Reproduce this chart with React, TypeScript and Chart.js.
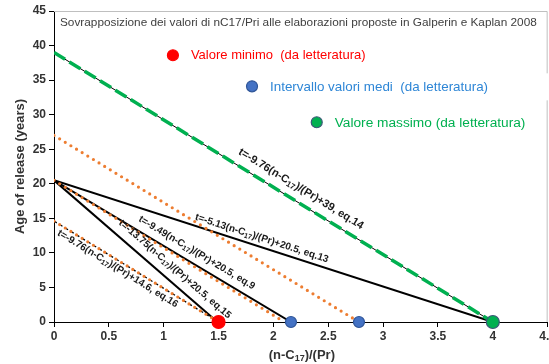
import React, { useEffect, useRef } from 'react';
import { Chart, registerables } from 'chart.js';

Chart.register(...registerables);

const FONT = "'Liberation Sans', Arial, Helvetica, sans-serif";
const TEXT_DARK = '#333333';

// Axis ranges and tick spacing
const X_MIN = 0;
const X_MAX = 4.5;
const X_STEP = 0.5;
const Y_MIN = 0;
const Y_MAX = 45;
const Y_STEP = 5;

// Age-of-release regressions, end points as ((n-C17)/(Pr), t)
const eq14Points = [{ x: 0, y: 39 }, { x: 4, y: 0 }];
const eq13Points = [{ x: 0, y: 20.5 }, { x: 4, y: 0 }];
const eq9Points = [{ x: 0, y: 20.5 }, { x: 2.16, y: 0 }];
const eq15Points = [{ x: 0, y: 20.5 }, { x: 1.49, y: 0 }];
const eq16Points = [{ x: 0, y: 14.6 }, { x: 1.5, y: 0 }];
const upperDottedPoints = [{ x: 0, y: 27 }, { x: 2.78, y: 0 }];
const middleDottedPoints = [{ x: 0, y: 20.5 }, { x: 2.1, y: 0 }];

// Literature nC17/Pri values
const minValuePoints = [{ x: 1.5, y: 0 }];
const meanValuePoints = [{ x: 2.16, y: 0 }, { x: 2.78, y: 0 }];
const maxValuePoints = [{ x: 4, y: 0 }];

const TITLE =
  'Sovrapposizione dei valori di nC17/Pri alle elaborazioni proposte in Galperin e Kaplan 2008';

const RED = '#FF0000';
const BLUE_FILL = '#4472C4';
const BLUE_EDGE = '#2F5597';
const BLUE_TEXT = '#2E86D6';
const GREEN = '#00B050';
const GREEN_EDGE = '#3B5878';
const ORANGE = '#ED7D31';

// The canvas is a little wider than the visible frame so the last x label runs off the edge
const VIEW_W = 549;
const VIEW_H = 364;
const CANVAS_W = 558;

type Part = { t: string; sub?: boolean };

const eqText = (coef: string, icpt: string, eq: string): Part[] => [
  { t: `t=${coef}(n-C` },
  { t: '17', sub: true },
  { t: `)/(Pr)+${icpt}, eq.${eq}` },
];

// Captions written along the lines: anchor along x, offset perpendicular (px, + = above)
const equationLabels = [
  { parts: eqText('-9.76', '39', '14'), line: eq14Points, at: 2.19, offset: 13, size: 11 },
  { parts: eqText('-5.13', '20.5', '13'), line: eq13Points, at: 1.87, offset: 8.6, size: 10 },
  { parts: eqText('-9.49', '20.5', '9'), line: eq9Points, at: 1.25, offset: 11, size: 10 },
  { parts: eqText('-13.75', '20.5', '15'), line: eq15Points, at: 1.03, offset: 12, size: 10 },
  { parts: eqText('-9.76', '14.6', '16'), line: eq16Points, at: 0.616, offset: -7.3, size: 10 },
];

// Key entries placed inside the plot, in data coordinates
const keyEntries = [
  { text: 'Valore minimo  (da letteratura)', x: 1.084, y: 38.6, fill: RED, edge: RED, color: RED, size: 13 },
  { text: 'Intervallo valori medi  (da letteratura)', x: 1.805, y: 34.1, fill: BLUE_FILL, edge: BLUE_EDGE, color: BLUE_TEXT, size: 13.4 },
  { text: 'Valore massimo (da letteratura)', x: 2.395, y: 28.9, fill: GREEN, edge: GREEN_EDGE, color: GREEN, size: 13.7 },
];

function richWidth(ctx: CanvasRenderingContext2D, parts: Part[], font: string, subFont: string) {
  let w = 0;
  for (const p of parts) {
    ctx.font = p.sub ? subFont : font;
    w += ctx.measureText(p.t).width;
  }
  return w;
}

function drawRich(
  ctx: CanvasRenderingContext2D,
  parts: Part[],
  font: string,
  subFont: string,
  subShift: number,
) {
  const total = richWidth(ctx, parts, font, subFont);
  let x = -total / 2;
  ctx.textAlign = 'left';
  ctx.textBaseline = 'middle';
  for (const p of parts) {
    ctx.font = p.sub ? subFont : font;
    ctx.fillText(p.t, x, p.sub ? subShift : 0);
    x += ctx.measureText(p.t).width;
  }
}

function drawDot(ctx: CanvasRenderingContext2D, x: number, y: number, r: number, fill: string, edge: string) {
  ctx.beginPath();
  ctx.arc(x, y, r, 0, Math.PI * 2);
  ctx.fillStyle = fill;
  ctx.fill();
  ctx.lineWidth = 1.2;
  ctx.strokeStyle = edge;
  ctx.stroke();
}

const overlayPlugin = {
  id: 'overlay',
  beforeDatasetsDraw(chart: any) {
    const { ctx, chartArea: a, scales } = chart;
    const yBlue = scales.y.getPixelForValue(keyEntries[1].y);
    ctx.save();
    // plot frame (top and right), broken behind the blue caption box
    ctx.strokeStyle = '#BFBFBF';
    ctx.lineWidth = 1;
    ctx.beginPath();
    ctx.moveTo(a.left, a.top + 0.5);
    ctx.lineTo(a.right - 0.5, a.top + 0.5);
    ctx.lineTo(a.right - 0.5, yBlue - 13);
    ctx.moveTo(a.right - 0.5, yBlue + 14);
    ctx.lineTo(a.right - 0.5, a.bottom);
    ctx.stroke();

    // title inside the plot area
    ctx.fillStyle = '#404040';
    ctx.font = `11.8px ${FONT}`;
    ctx.textAlign = 'left';
    ctx.textBaseline = 'middle';
    ctx.fillText(TITLE, a.left + 6, a.top + 12);
    ctx.restore();
  },
  afterDatasetsDraw(chart: any) {
    const { ctx, chartArea: a, scales } = chart;
    const xs = scales.x;
    const ys = scales.y;
    ctx.save();

    // equation captions
    ctx.fillStyle = '#1a1a1a';
    for (const lab of equationLabels) {
      const [p0, p1] = lab.line;
      const x0 = xs.getPixelForValue(p0.x);
      const y0 = ys.getPixelForValue(p0.y);
      const x1 = xs.getPixelForValue(p1.x);
      const y1 = ys.getPixelForValue(p1.y);
      const len = Math.hypot(x1 - x0, y1 - y0);
      const ux = (x1 - x0) / len;
      const uy = (y1 - y0) / len;
      const px = xs.getPixelForValue(lab.at);
      const py = y0 + ((px - x0) / ux) * uy;
      const cx = px + lab.offset * uy;
      const cy = py - lab.offset * ux;
      ctx.save();
      ctx.translate(cx, cy);
      ctx.rotate(Math.atan2(uy, ux));
      drawRich(
        ctx,
        lab.parts,
        `bold ${lab.size}px ${FONT}`,
        `bold ${Math.round(lab.size * 0.7)}px ${FONT}`,
        lab.size * 0.25,
      );
      ctx.restore();
    }

    // key entries
    for (const k of keyEntries) {
      const kx = xs.getPixelForValue(k.x);
      const ky = ys.getPixelForValue(k.y);
      drawDot(ctx, kx, ky, 5.5, k.fill, k.edge);
      ctx.fillStyle = k.color;
      ctx.font = `${k.size}px ${FONT}`;
      ctx.textAlign = 'left';
      ctx.textBaseline = 'middle';
      ctx.fillText(k.text, kx + 18, ky + 0.5);
    }

    // axis titles
    ctx.fillStyle = TEXT_DARK;
    ctx.save();
    ctx.translate(20, (a.top + a.bottom) / 2);
    ctx.rotate(-Math.PI / 2);
    ctx.font = `bold 13px ${FONT}`;
    ctx.textAlign = 'center';
    ctx.textBaseline = 'middle';
    ctx.fillText('Age of release (years)', 0, 0);
    ctx.restore();

    ctx.save();
    ctx.translate((a.left + a.right) / 2 + 1, a.bottom + 33);
    drawRich(
      ctx,
      [{ t: '(n-C' }, { t: '17', sub: true }, { t: ')/(Pr)' }],
      `bold 13px ${FONT}`,
      `bold 9px ${FONT}`,
      3.5,
    );
    ctx.restore();

    ctx.restore();
  },
};

const lineDs = (data: any[], color: string, width: number, dash: number[] = [], cap = 'butt') => ({
  type: 'scatter' as const,
  data,
  showLine: true,
  borderColor: color,
  backgroundColor: color,
  borderWidth: width,
  borderDash: dash,
  borderCapStyle: cap,
  pointRadius: 0,
  pointHoverRadius: 0,
});

const pointDs = (data: any[], fill: string, edge: string, r: number) => ({
  type: 'scatter' as const,
  data,
  showLine: false,
  backgroundColor: fill,
  borderColor: edge,
  borderWidth: 1.2,
  pointRadius: r,
  clip: false,
});

export default function App() {
  const canvasRef = useRef<HTMLCanvasElement | null>(null);

  useEffect(() => {
    document.body.style.margin = '0';
    const canvas = canvasRef.current;
    if (!canvas) return;

    const tickFont = { family: FONT, size: 12, weight: 'bold' as const };

    const chart = new Chart(canvas, {
      type: 'scatter',
      data: {
        datasets: [
          pointDs(maxValuePoints, GREEN, GREEN_EDGE, 6.5),
          pointDs(meanValuePoints, BLUE_FILL, BLUE_EDGE, 5.5),
          pointDs(minValuePoints, RED, RED, 6.5),
          lineDs(eq14Points, GREEN, 3.5, [13, 5]),
          lineDs(eq14Points, '#000000', 1),
          lineDs(upperDottedPoints, ORANGE, 3.2, [0, 6.6], 'round'),
          lineDs(middleDottedPoints, ORANGE, 3.2, [0, 6.6], 'round'),
          lineDs(eq16Points, ORANGE, 3.2, [0, 6.6], 'round'),
          lineDs(eq16Points, '#000000', 1.3, [3.3, 3.3]),
          lineDs(eq13Points, '#000000', 2),
          lineDs(eq9Points, '#000000', 2),
          lineDs(eq15Points, '#000000', 2),
        ] as any,
      },
      options: {
        responsive: false,
        animation: false,
        events: [],
        layout: { padding: { top: 11, right: 0, left: 0, bottom: 0 } },
        plugins: {
          legend: { display: false },
          tooltip: { enabled: false },
          title: { display: false },
        },
        scales: {
          x: {
            type: 'linear',
            min: X_MIN,
            max: X_MAX,
            ticks: {
              stepSize: X_STEP,
              color: TEXT_DARK,
              font: tickFont,
              padding: 2,
              maxRotation: 0,
              autoSkip: false,
              callback: (v: any) => String(v),
            },
            grid: {
              drawOnChartArea: false,
              drawTicks: true,
              tickLength: 5,
              color: '#000000',
            },
            border: { display: true, color: '#000000', width: 1 },
            afterFit(scale: any) {
              scale.height = 42;
            },
          },
          y: {
            type: 'linear',
            min: Y_MIN,
            max: Y_MAX,
            ticks: {
              stepSize: Y_STEP,
              color: TEXT_DARK,
              font: tickFont,
              padding: 3,
            },
            grid: {
              drawOnChartArea: false,
              drawTicks: true,
              tickLength: 5,
              color: '#000000',
            },
            border: { display: true, color: '#000000', width: 1 },
            afterFit(scale: any) {
              scale.width = 54;
            },
          },
        },
      },
      plugins: [overlayPlugin],
    });

    return () => chart.destroy();
  }, []);

  return (
    <div style={{ width: VIEW_W, height: VIEW_H, overflow: 'hidden', background: '#ffffff' }}>
      <canvas ref={canvasRef} width={CANVAS_W} height={VIEW_H} style={{ display: 'block' }} />
    </div>
  );
}
